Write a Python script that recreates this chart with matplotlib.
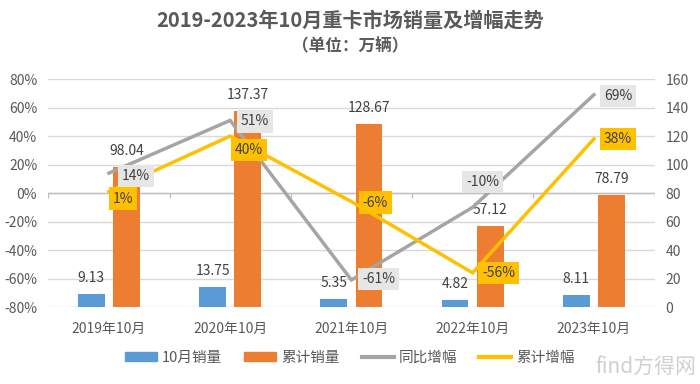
import numpy as np
import matplotlib
matplotlib.use("Agg")
import matplotlib.pyplot as plt
from matplotlib.patches import Patch
from matplotlib.lines import Line2D

plt.rcParams['font.family'] = ['Noto Sans CJK SC', 'DejaVu Sans']

# data
categories = ['2019年10月', '2020年10月', '2021年10月', '2022年10月', '2023年10月']
oct_sales = [9.13, 13.75, 5.35, 4.82, 8.11]          # 10月销量 (万辆)
ytd_sales = [98.04, 137.37, 128.67, 57.12, 78.79]    # 累计销量 (万辆)
yoy_growth = [14, 51, -61, -10, 69]                  # 同比增幅 (%)
ytd_growth = [1, 40, -6, -56, 38]                    # 累计增幅 (%)

BLUE = '#5b9bd5'
ORANGE = '#ed7d31'
GRAY = '#a5a5a5'
YELLOW = '#ffc000'
TXT = '#595959'
GRID = '#d9d9d9'

# label nudges in pixels (dx, dy), to mimic the hand-placed excel labels
yoy_off = [(27, -3), (25, -1), (27, 1), (10, 25), (24, -1)]
ytd_off = [(14, -7), (19, -14), (24, -1), (26, 0), (24, 0)]

fig = plt.figure(figsize=(7, 3.84), dpi=100)
ax2 = fig.add_axes([0.069, 0.2005, 0.866, 0.5935])   # bars, right axis
ax = fig.add_axes(ax2.get_position(), sharex=ax2)     # lines, left axis, drawn on top
ax.patch.set_visible(False)

x = np.arange(len(categories))
bw = 0.22
ax2.bar(x - 0.145, oct_sales, bw, color=BLUE, zorder=3)
ax2.bar(x + 0.145, ytd_sales, bw, color=ORANGE, zorder=3)
for xi, v in zip(x - 0.145, oct_sales):
    ax2.annotate(f'{v:.2f}', (xi, v), xytext=(0, 16), textcoords='offset pixels',
                 ha='center', va='center', fontsize=10, color='#404040')
for xi, v in zip(x + 0.145, ytd_sales):
    ax2.annotate(f'{v:.2f}', (xi, v), xytext=(0, 16), textcoords='offset pixels',
                 ha='center', va='center', fontsize=10, color='#404040')

ax2.set_ylim(0, 160)
ax2.set_yticks(np.arange(0, 161, 20))
ax2.yaxis.tick_right()
ax2.yaxis.set_label_position('right')
ax2.grid(axis='y', color=GRID, lw=1, zorder=0)
ax2.set_axisbelow(True)
ax2.set_xlim(-0.5, len(categories) - 0.5)
ax2.set_xticks(x)
ax2.set_xticklabels(categories)
# category axis line sits at 0% (= 80 on the right scale), with short ticks
ax2.axhline(80, color='#bfbfbf', lw=1, zorder=1)
ax2.vlines(np.arange(len(categories) + 1) - 0.5, 76.5, 80, color='#bfbfbf', lw=1, zorder=1)

ax.plot(x, yoy_growth, color=GRAY, lw=2.5, solid_joinstyle='miter', zorder=4)
ax.plot(x, ytd_growth, color=YELLOW, lw=2.5, solid_joinstyle='miter', zorder=5)
for xi, v, (dx, dy) in zip(x, yoy_growth, yoy_off):
    ax.annotate(f'{v}%', (xi, v), xytext=(dx, dy), textcoords='offset pixels',
                ha='center', va='center', fontsize=10, color='#404040', zorder=6,
                bbox=dict(boxstyle='square,pad=0.3', fc='#e7e6e6', ec='none'))
for xi, v, (dx, dy) in zip(x, ytd_growth, ytd_off):
    ax.annotate(f'{v}%', (xi, v), xytext=(dx, dy), textcoords='offset pixels',
                ha='center', va='center', fontsize=10, color='#404040', zorder=7,
                bbox=dict(boxstyle='square,pad=0.3', fc=YELLOW, ec='none'))
ax.set_ylim(-80, 80)
ax.set_yticks(np.arange(-80, 81, 20))
ax.set_yticklabels([f'{t}%' for t in range(-80, 81, 20)])

for a in (ax, ax2):
    for s in a.spines.values():
        s.set_visible(False)
    a.tick_params(length=0, labelsize=10, labelcolor=TXT)
ax2.tick_params(axis='x', pad=11)
ax2.tick_params(axis='y', pad=8)
ax.tick_params(axis='x', labelbottom=False)
ax.tick_params(axis='y', pad=8)

fig.text(0.5, 1 - 20 / 384, '2019-2023年10月重卡市场销量及增幅走势', ha='center', va='center',
         fontsize=14.5, fontweight='bold', color=TXT)
fig.text(0.5, 1 - 46 / 384, '（单位：万辆）', ha='center', va='center',
         fontsize=12, fontweight='bold', color=TXT)

handles = [Patch(color=BLUE), Patch(color=ORANGE),
           Line2D([], [], color=GRAY, lw=3), Line2D([], [], color=YELLOW, lw=3)]
labels = ['10月销量', '累计销量', '同比增幅', '累计增幅']
fig.legend(handles, labels, loc='center', bbox_to_anchor=(0.5, 1 - 358 / 384), ncol=4,
           frameon=False, fontsize=10.5, labelcolor=TXT, handlelength=2.2, handleheight=0.6,
           handletextpad=0.35, columnspacing=1.5)

fig.text(0.995, 0.045, 'find方得网', ha='right', va='center', fontsize=15, color='#d0d0d0')

fig.savefig('out.png', dpi=100)
